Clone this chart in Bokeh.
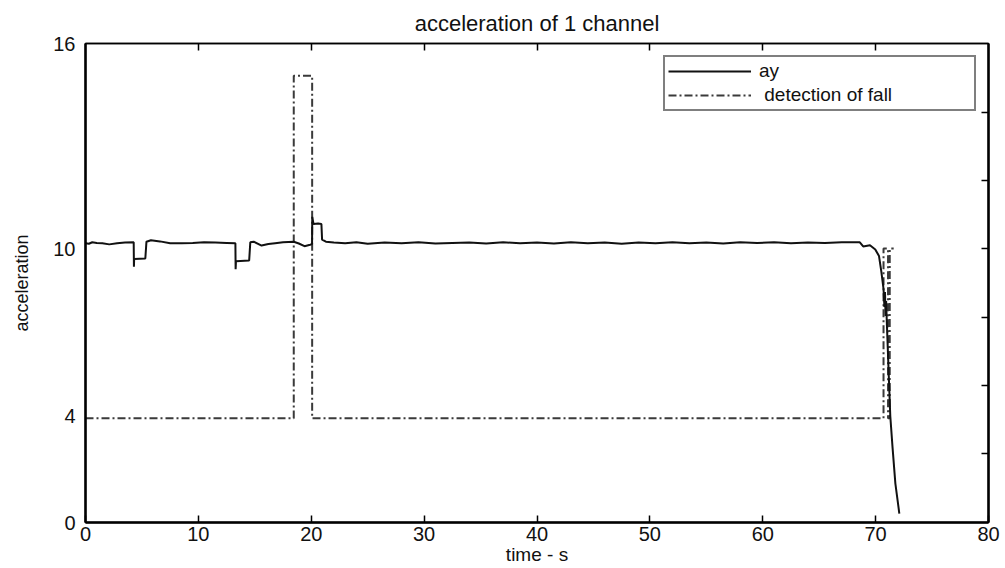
from bokeh.plotting import figure
from bokeh.models import LinearAxis, FixedTicker, Legend, LegendItem
from bokeh.embed import file_html
from bokeh.resources import INLINE

# ---- data (in the plot frame's 0-16 units) ----
ay_t = [0.0, 0.3, 0.6, 1.0, 1.5, 2.1, 2.8, 3.5, 4.27, 4.29, 4.31, 5.30, 5.40, 5.8, 6.6,
        7.5, 8.5, 9.5, 10.5, 11.5, 12.5, 13.28, 13.30, 13.33, 14.50, 14.60, 14.9, 15.6,
        16.2, 16.8, 17.5, 18.45, 18.9, 19.4, 19.9, 20.07, 20.09, 20.2, 20.6, 20.9, 20.96,
        21.3, 22.0, 23.0, 24.0, 25.0, 26.5, 28.0, 29.5, 31.0, 32.5, 34.0, 35.5, 37.0,
        38.5, 40.0, 41.5, 43.0, 44.5, 46.0, 47.5, 49.0, 50.5, 52.0, 53.5, 55.0, 56.5,
        58.0, 59.5, 61.0, 62.5, 64.0, 65.5, 67.0, 68.6, 68.9, 69.5, 69.97, 70.3, 70.5,
        70.7, 70.78, 70.83, 70.88, 70.93, 71.0, 71.3, 71.5, 71.75, 72.1]
ay_v = [9.33, 9.31, 9.36, 9.34, 9.33, 9.29, 9.33, 9.35, 9.36, 8.54, 8.80, 8.82, 9.38, 9.43, 9.39,
        9.33, 9.33, 9.34, 9.36, 9.35, 9.34, 9.33, 8.46, 8.73, 8.75, 9.36, 9.38, 9.25,
        9.30, 9.33, 9.36, 9.38, 9.32, 9.23, 9.28, 9.30, 10.21, 9.97, 9.99, 9.97, 9.45,
        9.38, 9.35, 9.33, 9.36, 9.31, 9.35, 9.33, 9.36, 9.32, 9.34, 9.35, 9.32, 9.36,
        9.33, 9.35, 9.32, 9.36, 9.33, 9.35, 9.31, 9.35, 9.33, 9.36, 9.33, 9.35, 9.32,
        9.36, 9.34, 9.36, 9.33, 9.35, 9.34, 9.36, 9.36, 9.22, 9.26, 9.12, 8.90, 8.40,
        7.80, 7.20, 7.70, 6.90, 7.40, 6.60, 3.55, 2.50, 1.30, 0.30]

fall_t = [0.0, 18.45, 18.45, 20.08, 20.08, 70.7, 70.7, 71.1, 71.1, 71.25, 71.25, 71.6]
fall_v = [3.48, 3.48, 14.92, 14.92, 3.48, 3.48, 9.15, 9.15, 3.48, 3.48, 9.15, 9.15]

x_ticks = [0, 10, 20, 30, 40, 50, 60, 70, 80]
x_inner_ticks = [10, 20, 30, 40, 50, 60, 70]
y_tick_pos = [0, 3.55, 9.15, 16]
y_tick_labels = ["0", "4", "10", "16"]
right_ticks = [2.29, 4.57, 6.86, 9.14, 11.43, 13.71]

title_text = "acceleration of 1 channel"
x_label = "time - s"
y_label = "acceleration"
series_names = ["ay", " detection of fall"]

FONT = "Liberation Sans"
INK = "#111111"

p = figure(width=1005, height=568, x_range=(0, 80), y_range=(0, 16),
           output_backend="svg", toolbar_location=None, title=title_text,
           min_border_left=85, min_border_right=17, min_border_top=43, min_border_bottom=46)

p.background_fill_color = "white"
p.border_fill_color = "white"
p.outline_line_color = "black"
p.outline_line_width = 1.5
p.grid.visible = False

p.title.align = "center"
p.title.text_font = FONT
p.title.text_font_style = "normal"
p.title.text_font_size = "22px"
p.title.text_color = INK
p.title.standoff = 16

# bottom axis
xa = p.xaxis[0]
xa.ticker = FixedTicker(ticks=x_ticks)
xa.major_tick_in = 7
xa.major_tick_out = 0
xa.minor_tick_line_color = None
xa.axis_line_width = 2.5
xa.major_tick_line_width = 1.5
xa.major_label_text_font = FONT
xa.major_label_text_font_size = "20px"
xa.major_label_text_color = INK
xa.major_label_standoff = 4
xa.axis_label = x_label
xa.axis_label_text_font = FONT
xa.axis_label_text_font_style = "normal"
xa.axis_label_text_font_size = "19px"
xa.axis_label_text_color = INK
xa.axis_label_standoff = 0

# left axis
ya = p.yaxis[0]
ya.ticker = FixedTicker(ticks=y_tick_pos)
ya.major_label_overrides = {pos: lab for pos, lab in zip(y_tick_pos, y_tick_labels)}
ya.major_tick_in = 0
ya.major_tick_out = 0
ya.minor_tick_line_color = None
ya.axis_line_width = 2.5
ya.major_label_text_font = FONT
ya.major_label_text_font_size = "20px"
ya.major_label_text_color = INK
ya.major_label_standoff = 10
ya.axis_label = y_label
ya.axis_label_text_font = FONT
ya.axis_label_text_font_style = "normal"
ya.axis_label_text_font_size = "18px"
ya.axis_label_text_color = INK
ya.axis_label_standoff = 18

# right and top axes: tick marks only (labels not drawn)
ra = LinearAxis(ticker=FixedTicker(ticks=right_ticks), major_tick_in=7, major_tick_out=0,
                minor_tick_line_color=None, major_label_text_font_size="1px",
                major_label_text_color=None, major_label_standoff=0,
                axis_line_width=2.5, major_tick_line_width=1.5)
p.add_layout(ra, "right")
ta = LinearAxis(ticker=FixedTicker(ticks=x_inner_ticks), major_tick_in=7, major_tick_out=0,
                minor_tick_line_color=None, major_label_text_font_size="1px",
                major_label_text_color=None, major_label_standoff=0,
                axis_line_width=1.5, major_tick_line_width=1.5)
p.add_layout(ta, "above")

r_fall = p.line(fall_t, fall_v, line_color="#3a3a3a", line_width=2, line_dash="8 3 2 3")
r_ay = p.line(ay_t, ay_v, line_color="#111111", line_width=2)

legend = Legend(items=[LegendItem(label=series_names[0], renderers=[r_ay]),
                       LegendItem(label=series_names[1], renderers=[r_fall])],
                location="top_right", margin=12, padding=3, spacing=2,
                glyph_width=83, glyph_height=18, label_height=18, label_width=212,
                label_standoff=8, border_line_color="black", border_line_width=2,
                background_fill_color="white", background_fill_alpha=1,
                label_text_font=FONT, label_text_font_size="19px", label_text_color=INK)
p.add_layout(legend, "center")

open("out.html", "w").write(file_html(p, INLINE))
